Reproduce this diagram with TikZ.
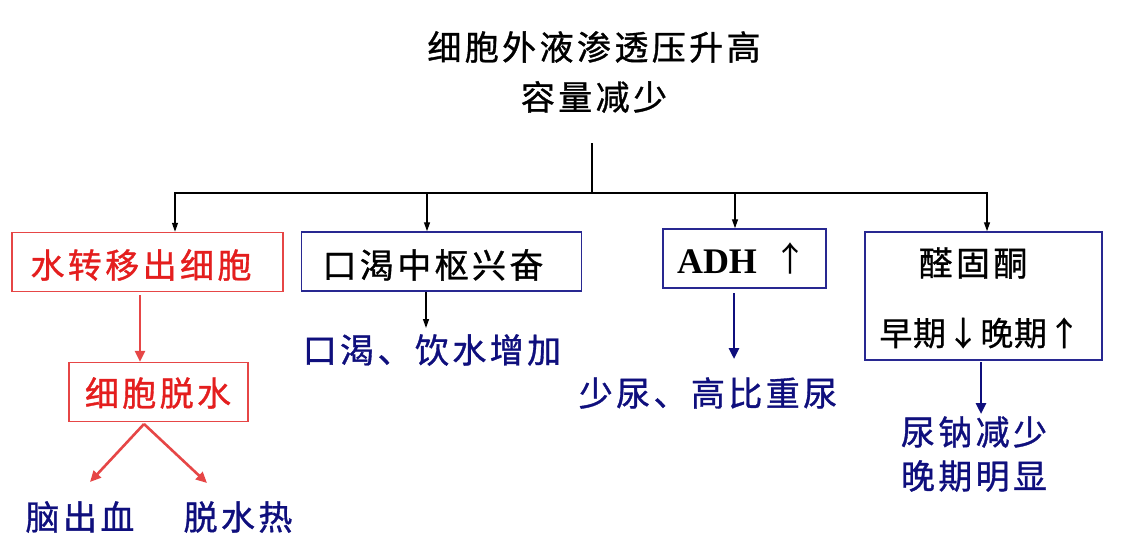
\documentclass[tikz,border=0pt]{standalone}
\usepackage{fontspec}
\usetikzlibrary{arrows.meta}
\newfontfamily\cjk[LetterSpace=10,FakeBold=1]{Noto Sans CJK SC}
\newfontfamily\cjkb[LetterSpace=2,FakeBold=0.6]{Noto Sans CJK SC}
\newfontfamily\cjkplain{Noto Sans CJK SC}
\newfontfamily\tms{Liberation Serif}
\definecolor{myred}{RGB}{228,30,30}
\definecolor{myredline}{RGB}{230,70,70}
\definecolor{mynavy}{RGB}{15,15,125}
\definecolor{myboxblue}{RGB}{40,40,145}
\tikzset{
  cn/.style={font=\cjk\fontsize{34}{44}\selectfont, inner sep=0pt, align=center},
  redbox/.style={draw=myredline, line width=1.5pt, text=myred, minimum height=59pt},
  bluebox/.style={draw=myboxblue, line width=1.5pt, text=black, minimum height=59pt},
  thin arrow/.style={line width=1.3pt, -{Triangle[length=9pt,width=6pt]}},
  red arrow/.style={draw=myredline, line width=2.6pt, -{Triangle[length=11pt,width=10pt]}},
  navy arrow/.style={draw=mynavy, line width=2.6pt, -{Triangle[length=11pt,width=10pt]}},
  navytext/.style={cn, text=mynavy}
}
\begin{document}
\begin{tikzpicture}[x=1pt,y=-1pt]
\path[use as bounding box, fill=white] (0,0) rectangle (1129,557);

% title
\node[cn, font=\cjk\fontsize{34}{50}\selectfont] (title) at (594,72) {细胞外液渗透压升高\\容量减少};
\coordinate (top) at (592,143);
\coordinate (j) at (592,193);
\coordinate (d1) at (175,193);
\coordinate (d2) at (427,193);
\coordinate (d3) at (735,193);
\coordinate (d4) at (987,193);

% boxes
\node[cn, redbox, minimum width=271pt] (b1) at (147.5,262) {};
\node[cn, text=myred] (b1t) at (141,265) {水转移出细胞};
\node[cn, bluebox, minimum width=280pt] (b2) at (441.5,261.5) {};
\node[cn] (b2t) at (433,265) {口渴中枢兴奋};
\node[bluebox, minimum width=163pt] (b3) at (744.5,258.5) {};
\node[font=\tms\bfseries\fontsize{36}{40}\selectfont, inner sep=0pt, anchor=base] (b3t) at (717,273) {ADH};
\node[font=\cjkplain\fontsize{34}{40}\selectfont, inner sep=0pt] (b3u) at (790,258) {↑};
\node[bluebox, minimum width=237pt, minimum height=128pt] (b4) at (983.5,296) {};
\node[cn] (b4a) at (973,263) {醛固酮};
\node[font=\cjkb\fontsize{33}{40}\selectfont, inner sep=0pt] (b4b) at (980,333) {早期↓晚期↑};

\node[cn, redbox, minimum width=179pt] (b5) at (158.5,392) {};
\node[cn, text=myred] (b5t) at (158,393) {细胞脱水};

% result texts
\node[navytext] (r1) at (80,517) {脑出血};
\node[navytext] (r2) at (238,517) {脱水热};
\node[navytext] (r3) at (432,350) {口渴、饮水增加};
\node[navytext] (r4) at (708,393) {少尿、高比重尿};
\node[navytext] (r5) at (974,432) {尿钠减少};
\node[navytext] (r6) at (974,476) {晚期明显};

% bus
\draw[line width=1.3pt] (top) -- (j);
\draw[line width=2.2pt] ([xshift=-1pt]d1) -- ([xshift=1pt]d4);
\draw[thin arrow] (d1) -- (d1 |- b1.north);
\draw[thin arrow] (d2) -- (d2 |- b2.north);
\draw[thin arrow] (d3) -- (d3 |- b3.north);
\draw[thin arrow] (d4) -- (d4 |- b4.north);

% red chain
\coordinate (s1) at (140,295);
\draw[red arrow] (s1) -- (s1 |- b5.north);
\coordinate (sp) at (144,424);
\coordinate (e1) at (90,482);
\coordinate (e2) at (207,483);
\draw[red arrow] (sp) -- (e1);
\draw[red arrow] (sp) -- (e2);

% box2 -> text
\coordinate (s2) at (426,292);
\coordinate (t2) at (426,328);
\draw[thin arrow] (s2) -- (t2);
% box3 -> text
\coordinate (s3) at (734,293);
\coordinate (t3) at (734,359);
\draw[navy arrow] (s3) -- (t3);
% box4 -> text
\coordinate (s4) at (981,362);
\coordinate (t4) at (981,414);
\draw[navy arrow] (s4) -- (t4);
\end{tikzpicture}
\end{document}
